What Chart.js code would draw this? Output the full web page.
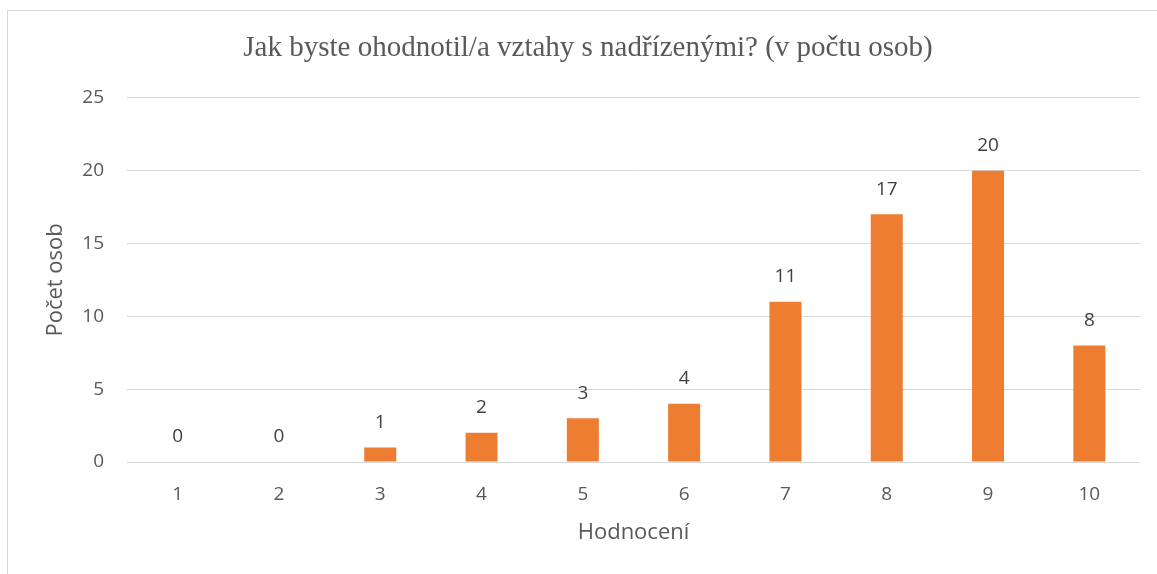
<!DOCTYPE html>
<html>
<head>
<meta charset="utf-8">
<script src="https://cdn.jsdelivr.net/npm/chart.js@4/dist/chart.umd.min.js"></script>
<style>
  html, body { margin: 0; padding: 0; background: #fff; overflow: hidden; width: 1157px; height: 574px; }
  #frame { position: absolute; left: 7px; top: 10px; width: 1200px; height: 600px; border: 1px solid #d9d9d9; box-sizing: border-box; }
  #c { position: absolute; left: 0; top: 0; }
</style>
</head>
<body>
<div id="frame"></div>
<canvas id="c" width="1176" height="574"></canvas>
<script>
const categories = ['1', '2', '3', '4', '5', '6', '7', '8', '9', '10'];
const counts = [0, 0, 1, 2, 3, 4, 11, 17, 20, 8];
const yTicks = [0, 5, 10, 15, 20, 25];
const chartTitle = 'Jak byste ohodnotil/a vztahy s nadřízenými? (v počtu osob)';
const xTitle = 'Hodnocení';
const yTitle = 'Počet osob';

const valueLabels = {
  id: 'valueLabels',
  afterDatasetsDraw(chart) {
    const ctx = chart.ctx;
    const meta = chart.getDatasetMeta(0);
    ctx.save();
    ctx.font = '19px "Open Sans"';
    ctx.fillStyle = '#404040';
    ctx.textAlign = 'center';
    ctx.textBaseline = 'middle';
    meta.data.forEach((bar, i) => {
      ctx.fillText(String(chart.data.datasets[0].data[i]), bar.x, bar.y - 25);
    });
    ctx.restore();
  }
};

new Chart(document.getElementById('c'), {
  type: 'bar',
  data: {
    labels: categories,
    datasets: [{
      data: counts,
      backgroundColor: '#ED7D31',
      borderWidth: 0,
      barPercentage: 0.316,
      categoryPercentage: 1.0
    }]
  },
  options: {
    responsive: false,
    animation: false,
    devicePixelRatio: 1,
    layout: { padding: { left: 36, right: 36, top: 0, bottom: 0 } },
    plugins: {
      legend: { display: false },
      tooltip: { enabled: false },
      title: {
        display: true,
        text: chartTitle,
        color: '#595959',
        font: { family: '"Liberation Serif"', size: 29, weight: 'normal' },
        padding: { top: 31, bottom: 32 }
      }
    },
    scales: {
      x: {
        grid: { display: false, drawTicks: false },
        border: { display: false },
        ticks: { color: '#595959', font: { family: '"Open Sans"', size: 19 }, padding: 21, maxRotation: 0 },
        title: { display: true, text: xTitle, color: '#595959', font: { family: '"Open Sans"', size: 22 }, padding: { top: 0, bottom: 28 } },
        afterFit(scale) { scale.height = 112; }
      },
      y: {
        min: 0,
        max: 25,
        afterBuildTicks(scale) { scale.ticks = yTicks.map(v => ({ value: v })); },
        grid: { color: '#d9d9d9', lineWidth: 1, drawTicks: false },
        border: { display: false },
        ticks: { color: '#595959', font: { family: '"Open Sans"', size: 19 }, padding: 23 },
        title: { display: true, text: yTitle, color: '#595959', font: { family: '"Open Sans"', size: 22 }, padding: { top: 7, bottom: 0 } },
        afterFit(scale) { scale.width = 91; }
      }
    }
  },
  plugins: [valueLabels]
});
</script>
</body>
</html>
